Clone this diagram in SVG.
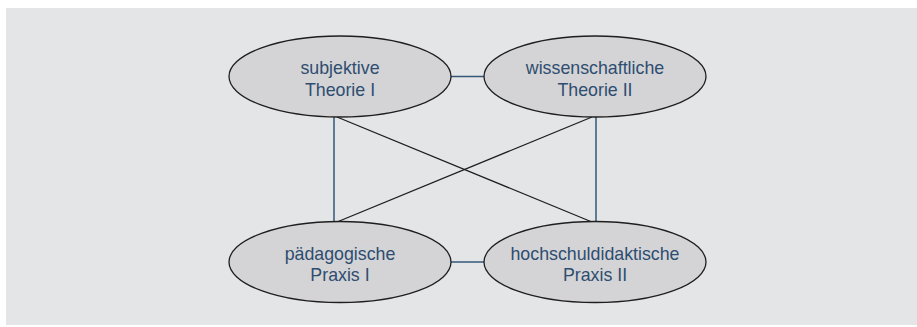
<svg xmlns="http://www.w3.org/2000/svg" width="917" height="327" viewBox="0 0 917 327">
<style>
.bg{fill:#e4e5e6}
.node ellipse{fill:#d4d4d6;stroke:#1e1e1e;stroke-width:1.3}
.node text{font-family:"Liberation Sans",Arial,sans-serif;font-size:17.8px;fill:#2e4d70;text-anchor:middle}
.blue{stroke:#34577a;stroke-width:1.5;fill:none}
.dark{stroke:#1e1e1e;stroke-width:1.3;fill:none}
</style>
<rect class="bg" x="6" y="8" width="911" height="317"/>
<g id="connectors">
<line class="blue" x1="451" y1="76.5" x2="484" y2="76.5"/>
<line class="blue" x1="451" y1="262" x2="484" y2="262"/>
<line class="blue" x1="334" y1="117" x2="334" y2="222"/>
<line class="blue" x1="596" y1="117" x2="596" y2="222"/>
<line class="dark" x1="337" y1="117" x2="592" y2="222"/>
<line class="dark" x1="592" y1="117" x2="337" y2="222"/>
</g>
<g id="n1" class="node">
<ellipse cx="340" cy="76.5" rx="111" ry="40.5"/>
<text x="340" y="74">subjektive</text>
<text x="340" y="95.5">Theorie I</text>
</g>
<g id="n2" class="node">
<ellipse cx="595" cy="76.5" rx="111" ry="40.5"/>
<text x="595" y="74">wissenschaftliche</text>
<text x="595" y="95.5">Theorie II</text>
</g>
<g id="n3" class="node">
<ellipse cx="340" cy="262" rx="111" ry="40.5"/>
<text x="340" y="259.5">pädagogische</text>
<text x="340" y="281">Praxis I</text>
</g>
<g id="n4" class="node">
<ellipse cx="595" cy="262" rx="111" ry="40.5"/>
<text x="595" y="259.5">hochschuldidaktische</text>
<text x="595" y="281">Praxis II</text>
</g>
</svg>
